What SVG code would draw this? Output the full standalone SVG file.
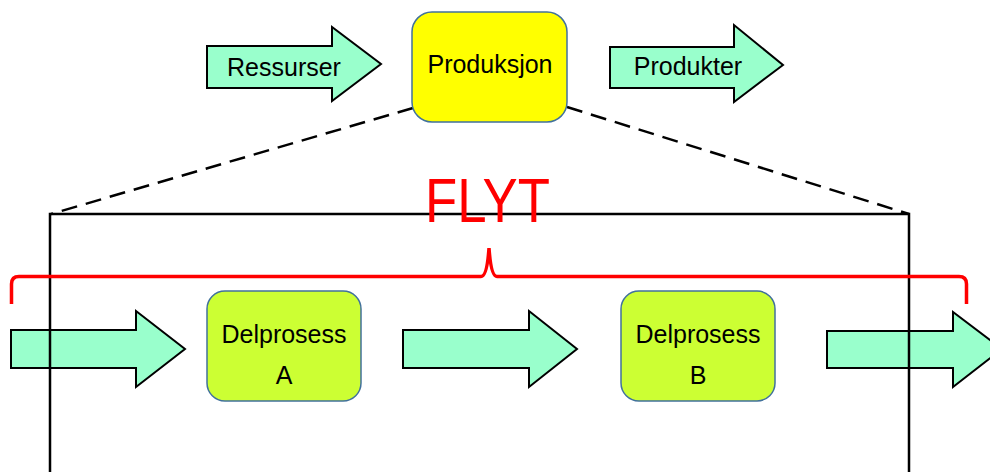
<svg xmlns="http://www.w3.org/2000/svg" width="990" height="472" viewBox="0 0 990 472">
<style>
.blk{fill:#99FFCC;stroke:#000;stroke-width:2;stroke-linejoin:miter}
.box{stroke:#41719C;stroke-width:1.5}
.t{font-family:"Liberation Sans",Arial,sans-serif;font-size:25px;fill:#000;text-anchor:middle}
.dash{stroke:#000;stroke-width:2.5;stroke-dasharray:16 9;fill:none}
.frame{stroke:#000;stroke-width:2.5;fill:none}
</style>
<rect width="990" height="472" fill="#fff"/>
<g id="connectors">
<line class="dash" x1="413" y1="108" x2="51" y2="214"/>
<line class="dash" x1="567" y1="107" x2="909" y2="214"/>
<path id="arrow1" class="blk" d="M11,330 H136 V311 L185,349 L136,387 V368 H11 Z"/>
<path id="arrow2" class="blk" d="M403,330 H529 V311 L577,349 L529,387 V368 H403 Z"/>
<path id="arrow3" class="blk" d="M827,331 H953 V312 L1002,349 L953,387 V368 H827 Z"/>
</g>
<g id="ressurser">
<path class="blk" d="M207,46 H332 V27 L381,64 L332,101 V88 H207 Z"/>
<text class="t" x="284" y="76">Ressurser</text>
</g>
<g id="produksjon">
<rect class="box" x="412" y="12" width="155" height="110" rx="20" fill="#FFFF00"/>
<text class="t" x="490" y="73" font-size="26">Produksjon</text>
</g>
<g id="produkter">
<path class="blk" d="M610,47 H734 V25 L783,65 L734,102 V88 H610 Z"/>
<text class="t" x="688" y="75" font-size="26">Produkter</text>
</g>
<g id="delprosessA">
<rect class="box" x="207" y="291" width="154" height="110" rx="18" fill="#CCFF33"/>
<text class="t" x="284" y="343">Delprosess</text>
<text class="t" x="284" y="384">A</text>
</g>
<g id="delprosessB">
<rect class="box" x="621" y="291" width="154" height="110" rx="18" fill="#CCFF33"/>
<text class="t" x="698" y="343">Delprosess</text>
<text class="t" x="698" y="384">B</text>
</g>
<g id="frame">
<path class="frame" d="M50,480 V214 H909 V480"/>
</g>
<g id="flyt">
<path d="M11.5,304 V284 Q11.5,276.5 19,276.5 H481 Q487,276.5 489,248 Q491,276.5 497,276.5 H959 Q966.5,276.5 966.5,284 V304" fill="none" stroke="#FF0000" stroke-width="3.5"/>
<text x="487.5" y="222" font-family="'Liberation Sans',Arial,sans-serif" font-size="63" fill="#FF0000" text-anchor="middle" textLength="125" lengthAdjust="spacingAndGlyphs">FLYT</text>
</g>
</svg>
